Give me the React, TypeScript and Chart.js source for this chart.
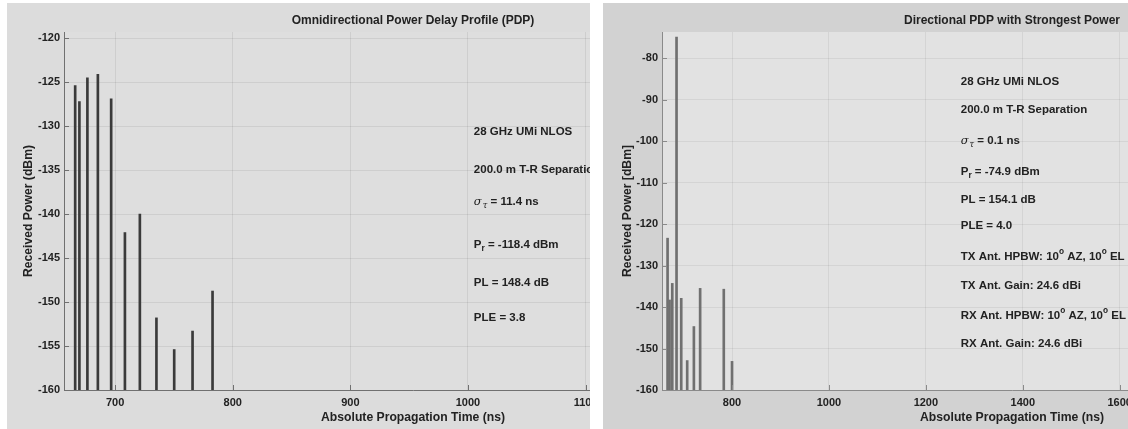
import React, { useEffect, useRef } from "react";
import { Chart, registerables } from "chart.js";

Chart.register(...registerables);

// ---------- data ----------
const omniTimes = [666, 669.6, 676.4, 685.3, 696.6, 708.3, 721, 735.1, 750.2, 765.8, 782.8];
const omniPower = [-125.4, -127.2, -124.5, -124.1, -126.9, -142.1, -140.0, -151.8, -155.4, -153.3, -148.75];
const omniXTicks = [700, 800, 900, 1000, 1100, 1200];
const omniYTicks = [-160, -155, -150, -145, -140, -135, -130, -125, -120];
const omniNotes = [
  "28 GHz UMi NLOS",
  "200.0 m T-R Separation",
  "\\sigma_{\\tau} = 11.4 ns",
  "P_{r} = -118.4 dBm",
  "PL = 148.4 dB",
  "PLE = 3.8",
];
const omniNoteX = 1005;
const omniNoteY = [-130.7, -135.0, -138.6, -143.5, -147.8, -151.8];

const dirTimes = [667, 671.1, 676.7, 685.5, 695.2, 707.5, 721.3, 734.2, 783, 800];
const dirPower = [-123.4, -138.3, -134.3, -74.9, -137.9, -152.9, -144.7, -135.5, -135.7, -153.1];
const dirXTicks = [800, 1000, 1200, 1400, 1600, 1800, 2000];
const dirYTicks = [-160, -150, -140, -130, -120, -110, -100, -90, -80];
const dirNotes = [
  "28 GHz UMi NLOS",
  "200.0 m T-R Separation",
  "\\sigma_{\\tau} = 0.1 ns",
  "P_{r} = -74.9 dBm",
  "PL = 154.1 dB",
  "PLE = 4.0",
  "TX Ant. HPBW: 10^{o} AZ, 10^{o} EL",
  "TX Ant. Gain: 24.6 dBi",
  "RX Ant. HPBW: 10^{o} AZ, 10^{o} EL",
  "RX Ant. Gain: 24.6 dBi",
];
const dirNoteX = 1272;
const dirNoteY = [-85.6, -92.5, -99.9, -107.5, -114.1, -120.4, -127.8, -134.8, -142.0, -148.8];

const FONT = '"Liberation Sans", Arial, Helvetica, sans-serif';

type Seg = { t: string; mode: "n" | "sub" | "sup"; greek: boolean };
const GREEK: Record<string, string> = { "\\sigma": "σ", "\\tau": "τ" };

function parseTex(s: string): Seg[] {
  const segs: Seg[] = [];
  let buf = "";
  let i = 0;
  const flush = () => {
    if (buf) segs.push({ t: buf, mode: "n", greek: false });
    buf = "";
  };
  const conv = (c: string) => {
    let greek = false;
    const out = c.replace(/\\[a-z]+/g, (m) => {
      greek = true;
      return GREEK[m] || m;
    });
    return { out, greek };
  };
  while (i < s.length) {
    const c = s[i];
    if (c === "_" || c === "^") {
      flush();
      let content = "";
      if (s[i + 1] === "{") {
        const j = s.indexOf("}", i + 2);
        content = s.slice(i + 2, j);
        i = j + 1;
      } else {
        content = s[i + 1];
        i += 2;
      }
      const g = conv(content);
      segs.push({ t: g.out, mode: c === "_" ? "sub" : "sup", greek: g.greek });
    } else if (c === "\\") {
      flush();
      const m = /^\\[a-z]+/.exec(s.slice(i));
      const name = m ? m[0] : "\\";
      segs.push({ t: GREEK[name] || name, mode: "n", greek: true });
      i += name.length;
    } else {
      buf += c;
      i++;
    }
  }
  flush();
  return segs;
}

function drawRich(ctx: CanvasRenderingContext2D, s: string, x: number, y: number, size: number, color: string) {
  const segs = parseTex(s);
  let cx = x;
  ctx.textAlign = "left";
  ctx.textBaseline = "middle";
  ctx.fillStyle = color;
  for (const sg of segs) {
    let sz = size;
    let dy = 0;
    if (sg.mode === "sub") {
      sz = size * 0.72;
      dy = 4;
    } else if (sg.mode === "sup") {
      sz = size * 0.72;
      dy = -5;
    }
    ctx.font = sg.greek ? `italic ${sz}px "DejaVu Serif", serif` : `bold ${sz}px ${FONT}`;
    ctx.fillText(sg.t, cx, y + dy);
    cx += ctx.measureText(sg.t).width + (sg.greek && sg.mode === "n" ? 1 : 0);
  }
}

type PanelCfg = {
  times: number[];
  power: number[];
  xMin: number;
  xMax: number;
  yMin: number;
  yMax: number;
  xTicks: number[];
  yTicks: number[];
  title: string;
  xLabel: string;
  yLabel: string;
  notes: string[];
  noteX: number;
  noteY: number[];
  figBg: string;
  axBg: string;
  barColor: string;
  axisColor: string;
  gridColor: string;
  W: number;
  H: number;
  areaLeft: number;
  areaTop: number;
  areaRight: number;
  areaBottom: number;
  yLabelX: number;
};

function PdpChart({ cfg }: { cfg: PanelCfg }) {
  const ref = useRef<HTMLCanvasElement>(null);
  useEffect(() => {
    const canvas = ref.current;
    if (!canvas) return;
    const textColor = "#222";
    const bgPlugin = {
      id: "bgPlugin",
      beforeDraw(chart: any) {
        const ctx = chart.ctx;
        const a = chart.chartArea;
        ctx.save();
        ctx.fillStyle = cfg.figBg;
        ctx.fillRect(0, 0, chart.width, chart.height);
        ctx.fillStyle = cfg.axBg;
        ctx.fillRect(a.left, a.top, a.right - a.left, a.bottom - a.top);
        ctx.restore();
      },
    };
    const decor = {
      id: "decor",
      afterDraw(chart: any) {
        const ctx: CanvasRenderingContext2D = chart.ctx;
        const { left, right, top, bottom } = chart.chartArea;
        const xs = chart.scales.x;
        const ys = chart.scales.y;
        ctx.save();
        ctx.strokeStyle = cfg.axisColor;
        ctx.lineWidth = 1;
        ctx.beginPath();
        for (const v of cfg.yTicks) {
          const py = Math.round(ys.getPixelForValue(v)) + 0.5;
          ctx.moveTo(left, py);
          ctx.lineTo(left + 5, py);
        }
        for (const v of cfg.xTicks) {
          const px = Math.round(xs.getPixelForValue(v)) + 0.5;
          ctx.moveTo(px, bottom);
          ctx.lineTo(px, bottom - 5);
        }
        ctx.stroke();
        const cxm = (left + right) / 2;
        ctx.fillStyle = textColor;
        ctx.textAlign = "center";
        ctx.textBaseline = "middle";
        ctx.font = `bold 12px ${FONT}`;
        ctx.fillText(cfg.title, cxm, 18);
        ctx.font = `bold 12.2px ${FONT}`;
        ctx.fillText(cfg.xLabel, cxm, 415);
        ctx.save();
        ctx.translate(cfg.yLabelX, (top + bottom) / 2);
        ctx.rotate(-Math.PI / 2);
        ctx.fillText(cfg.yLabel, 0, 0);
        ctx.restore();
        cfg.notes.forEach((n, i) => {
          drawRich(ctx, n, xs.getPixelForValue(cfg.noteX), ys.getPixelForValue(cfg.noteY[i]), 11.5, textColor);
        });
        ctx.restore();
      },
    };
    const tickFont = { family: FONT, size: 11, weight: "bold" as const };
    const chart = new Chart(canvas, {
      type: "bar",
      data: {
        datasets: [
          {
            data: cfg.times.map((t, i) => ({ x: t, y: [cfg.yMin, cfg.power[i]] })) as any,
            backgroundColor: cfg.barColor,
            borderWidth: 0,
            barThickness: 2,
            grouped: false,
          } as any,
        ],
      },
      options: {
        animation: false,
        responsive: false,
        maintainAspectRatio: false,
        layout: {
          padding: { left: 0, top: cfg.areaTop, right: cfg.W - cfg.areaRight, bottom: 0 },
        },
        plugins: {
          legend: { display: false },
          tooltip: { enabled: false },
          title: { display: false },
        },
        scales: {
          x: {
            type: "linear",
            min: cfg.xMin,
            max: cfg.xMax,
            offset: false,
            afterBuildTicks: (a: any) => {
              a.ticks = cfg.xTicks.map((v) => ({ value: v }));
            },
            afterFit: (a: any) => {
              a.height = cfg.H - cfg.areaBottom;
            },
            grid: { color: cfg.gridColor, drawTicks: false, offset: false },
            border: { color: cfg.axisColor, width: 1 },
            ticks: {
              font: tickFont,
              color: textColor,
              padding: 6,
              maxRotation: 0,
              autoSkip: false,
              callback: (v: any) => String(v),
            },
          },
          y: {
            type: "linear",
            min: cfg.yMin,
            max: cfg.yMax,
            afterBuildTicks: (a: any) => {
              a.ticks = cfg.yTicks.map((v) => ({ value: v }));
            },
            afterFit: (a: any) => {
              a.width = cfg.areaLeft;
            },
            grid: { color: cfg.gridColor, drawTicks: false },
            border: { color: cfg.axisColor, width: 1 },
            ticks: {
              font: tickFont,
              color: textColor,
              padding: 4,
              autoSkip: false,
              callback: (v: any) => String(v),
            },
          },
        },
      } as any,
      plugins: [bgPlugin, decor],
    });
    return () => chart.destroy();
  }, [cfg]);
  return <canvas ref={ref} width={cfg.W} height={cfg.H} style={{ display: "block", width: cfg.W, height: cfg.H }} />;
}

const leftCfg: PanelCfg = {
  times: omniTimes,
  power: omniPower,
  xMin: 656.5,
  xMax: 1250,
  yMin: -160,
  yMax: -119.3,
  xTicks: omniXTicks,
  yTicks: omniYTicks,
  title: "Omnidirectional Power Delay Profile (PDP)",
  xLabel: "Absolute Propagation Time (ns)",
  yLabel: "Received Power (dBm)",
  notes: omniNotes,
  noteX: omniNoteX,
  noteY: omniNoteY,
  figBg: "#dcdcdc",
  axBg: "#dedede",
  barColor: "#3a3a3a",
  axisColor: "#707070",
  gridColor: "rgba(0,0,0,0.07)",
  W: 800,
  H: 426,
  areaLeft: 57,
  areaTop: 29,
  areaRight: 755,
  areaBottom: 387,
  yLabelX: 22,
};

const rightCfg: PanelCfg = {
  times: dirTimes,
  power: dirPower,
  xMin: 655.5,
  xMax: 2100,
  yMin: -160,
  yMax: -73.7,
  xTicks: dirXTicks,
  yTicks: dirYTicks,
  title: "Directional PDP with Strongest Power",
  xLabel: "Absolute Propagation Time (ns)",
  yLabel: "Received Power [dBm]",
  notes: dirNotes,
  noteX: dirNoteX,
  noteY: dirNoteY,
  figBg: "#d2d2d2",
  axBg: "#e2e2e2",
  barColor: "#707070",
  axisColor: "#8a8a8a",
  gridColor: "rgba(0,0,0,0.06)",
  W: 800,
  H: 426,
  areaLeft: 59,
  areaTop: 29,
  areaRight: 759,
  areaBottom: 387,
  yLabelX: 24.5,
};

export default function App() {
  return (
    <div style={{ position: "absolute", left: 0, top: 0, width: 1128, height: 429, background: "#ffffff", overflow: "hidden" }}>
      <div style={{ position: "absolute", left: 7, top: 3, width: 583, height: 426, overflow: "hidden", background: leftCfg.figBg }}>
        <PdpChart cfg={leftCfg} />
      </div>
      <div style={{ position: "absolute", left: 603, top: 3, width: 525, height: 426, overflow: "hidden", background: rightCfg.figBg }}>
        <PdpChart cfg={rightCfg} />
      </div>
    </div>
  );
}
